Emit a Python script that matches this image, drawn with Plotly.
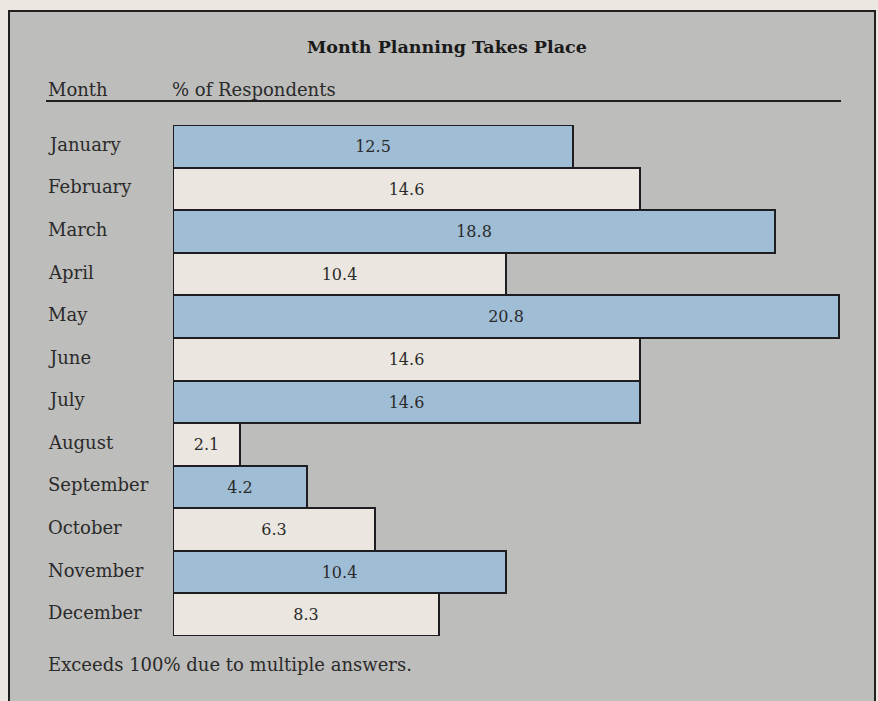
import plotly.graph_objects as go

months = ["January", "February", "March", "April", "May", "June", "July",
          "August", "September", "October", "November", "December"]
values = [12.5, 14.6, 18.8, 10.4, 20.8, 14.6, 14.6, 2.1, 4.2, 6.3, 10.4, 8.3]
title_text = "Month Planning Takes Place"
header_month = "Month"
header_pct = "% of Respondents"
footnote = "Exceeds 100% due to multiple answers."

W, H = 878, 701
L, R, T, B = 173, 37, 125, 65
pw, ph = W - L - R, H - T - B

def px(x):
    return (x - L) / pw

def py(y):
    return (H - B - y) / ph

BLUE = "#a0bdd6"
CREAM = "#ebe7e0"
FONT = "DejaVu Serif"
TXT = "#2a2a2a"
colors = [BLUE if i % 2 == 0 else CREAM for i in range(len(months))]

fig = go.Figure()
fig.add_trace(go.Bar(
    x=values, y=months, orientation="h",
    marker=dict(color=colors, line=dict(color="#1e1e22", width=2)),
    width=1.0,
    text=[f"{v:.1f}" for v in values],
    textposition="inside", insidetextanchor="middle",
    textfont=dict(family=FONT, size=16, color=TXT),
    hoverinfo="skip",
))

shapes = [
    dict(type="rect", xref="paper", yref="paper",
         x0=px(9), x1=px(875), y0=py(720), y1=py(11),
         fillcolor="#bdbdbb", line=dict(color="#202020", width=2), layer="below"),
    dict(type="line", xref="paper", yref="paper",
         x0=px(46), x1=px(841), y0=py(101), y1=py(101),
         line=dict(color="#202020", width=2)),
]

annotations = [
    dict(text="<b>" + title_text + "</b>", xref="paper", yref="paper",
         x=px(447), y=py(47), xanchor="center", yanchor="middle",
         showarrow=False, font=dict(family=FONT, size=17.5, color="#1a1a1a")),
    dict(text=header_month, xref="paper", yref="paper",
         x=px(46), y=py(89), xanchor="left", yanchor="middle",
         showarrow=False, font=dict(family=FONT, size=18, color=TXT)),
    dict(text=header_pct, xref="paper", yref="paper",
         x=px(170), y=py(89), xanchor="left", yanchor="middle",
         showarrow=False, font=dict(family=FONT, size=18, color=TXT)),
    dict(text=footnote, xref="paper", yref="paper",
         x=px(46), y=py(664), xanchor="left", yanchor="middle",
         showarrow=False, font=dict(family=FONT, size=18, color=TXT)),
]
for m in months:
    annotations.append(dict(text=m, xref="paper", yref="y", x=px(46), y=m,
                            xanchor="left", yanchor="middle", showarrow=False,
                            yshift=2,
                            font=dict(family=FONT, size=18, color=TXT)))

fig.update_layout(
    width=W, height=H,
    margin=dict(l=L, r=R, t=T, b=B),
    paper_bgcolor="#ece8e1", plot_bgcolor="rgba(0,0,0,0)",
    showlegend=False,
    bargap=0,
    xaxis=dict(range=[0, 20.875], visible=False, fixedrange=True),
    yaxis=dict(categoryorder="array", categoryarray=months, autorange="reversed",
               visible=False, fixedrange=True),
    shapes=shapes, annotations=annotations,
)

fig.write_html("out.html",
               config={"displayModeBar": False},
               post_script="document.body.style.margin='0px';document.body.style.overflow='hidden';document.body.style.background='#ece8e1';")
